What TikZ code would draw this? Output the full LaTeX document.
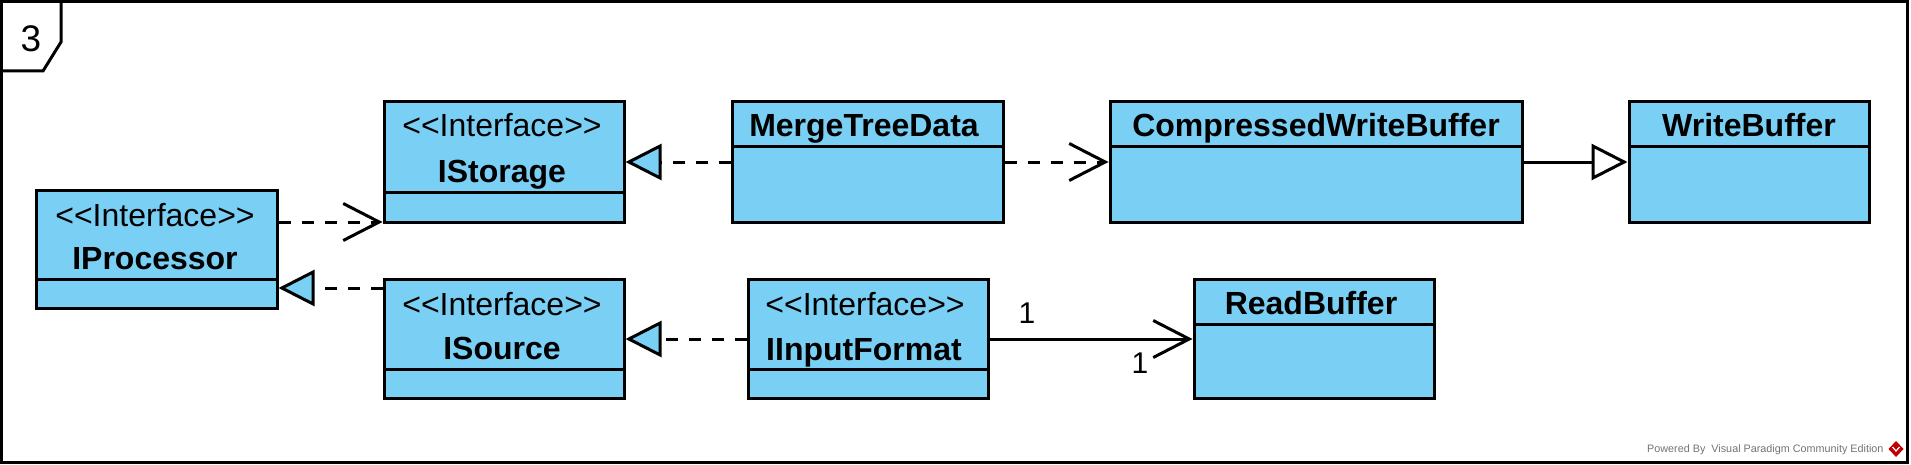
\documentclass[tikz,border=0pt]{standalone}
\usepackage{fontspec}
\setmainfont{Liberation Sans}
\usetikzlibrary{arrows.meta,fit}
\definecolor{umlblue}{RGB}{122,207,245}
\newcommand\stereotxt{<\kern0pt<Interface>\kern0pt>}
\begin{document}
\begin{tikzpicture}[x=0.5pt,y=-0.5pt,line width=1.5pt,
  classbox/.style={draw, fill=umlblue, inner sep=0pt, line width=1.5pt},
  stereo/.style={font=\fontsize{16}{19}\selectfont, anchor=base, inner sep=0pt},
  cname/.style={font=\bfseries\fontsize{16}{19}\selectfont, anchor=base, inner sep=0pt},
  mult/.style={font=\fontsize{15}{18}\selectfont, anchor=base, inner sep=0pt},
  dashpat/.style={dash pattern=on 6pt off 5.5pt},
  dep/.style={dashpat, -{Straight Barb[length=18pt,width=18.5pt]}},
  real/.style={dashpat, -{Triangle[length=18pt,width=18pt,fill=umlblue]}},
  gen/.style={-{Triangle[length=18pt,width=18pt,fill=white]}},
  assoc/.style={-{Straight Barb[length=18pt,width=18.5pt]}},
]
\useasboundingbox (0,0) rectangle (1911,465);
% frame
\draw (1.5,1.5) rectangle (1907,462.5);
\draw (1.5,71) -- (43,71) -- (61,42) -- (61,1.5);
\node[font=\fontsize{18.5}{21}\selectfont, anchor=base, inner sep=0pt] (tabnum) at (31,52) {3};

% IProcessor
\node[classbox, fit={(36,190) (277,308)}] (iproc) {};
\draw (36,279) -- (277,279);
\node[stereo] (iprocst) at (155,226) {\stereotxt};
\node[cname] (iprocnm) at (155,269) {IProcessor};

% IStorage
\node[classbox, fit={(384,102) (624,222)}] (istor) {};
\draw (384,192) -- (624,192);
\node[stereo] (istorst) at (502,137) {\stereotxt};
\node[cname] (istornm) at (502,182) {IStorage};

% MergeTreeData
\node[classbox, fit={(732,102) (1003,222)}] (mtd) {};
\draw (732,147) -- (1003,147);
\node[cname] (mtdnm) at (864,137) {MergeTreeData};

% CompressedWriteBuffer
\node[classbox, fit={(1110,102) (1522,222)}] (cwb) {};
\draw (1110,147) -- (1522,147);
\node[cname] (cwbnm) at (1316,137) {CompressedWriteBuffer};

% WriteBuffer
\node[classbox, fit={(1629,102) (1869,222)}] (wb) {};
\draw (1629,147) -- (1869,147);
\node[cname] (wbnm) at (1749,137) {WriteBuffer};

% ISource
\node[classbox, fit={(384,279) (624,398)}] (isrc) {};
\draw (384,369) -- (624,369);
\node[stereo] (isrcst) at (502,315) {\stereotxt};
\node[cname] (isrcnm) at (502,359) {ISource};

% IInputFormat
\node[classbox, fit={(748,279) (988,398)}] (iif) {};
\draw (748,369) -- (988,369);
\node[stereo] (iifst) at (865,315) {\stereotxt};
\node[cname] (iifnm) at (864,360) {IInputFormat};

% ReadBuffer
\node[classbox, fit={(1194,279) (1434,398)}] (rb) {};
\draw (1194,324) -- (1434,324);
\node[cname] (rbnm) at (1311,314) {ReadBuffer};

% connectors
\coordinate (yA) at (0,222);
\coordinate (yB) at (0,288);
\coordinate (yC) at (0,339);
\draw[dep] (iproc.east |- yA) -- (istor.west |- yA);
\draw[real] (isrc.west |- yB) -- (iproc.east |- yB);
\draw[real] (mtd.west) -- (istor.east);
\draw[dep] (mtd.east) -- (cwb.west);
\draw[gen] (cwb.east) -- (wb.west);
\draw[real] (iif.west |- yC) -- (isrc.east |- yC);
\draw[assoc] (iif.east |- yC) -- (rb.west |- yC);
\node[mult] (m1) at (1027,323) {1};
\node[mult] (m2) at (1140,373) {1};

% watermark
\node[anchor=base east, inner sep=0pt, font=\fontsize{5.4}{6}\selectfont, text=black!55] (wm) at (1885,452) {Powered By\ \ Visual Paradigm Community Edition};
\fill[red!75!black] (1896,441) -- (1903.5,449) -- (1896,457) -- (1888.5,449) -- cycle;
\draw[white, line width=0.6pt] (1892.5,447) -- (1896,451) -- (1899.5,447);
\end{tikzpicture}
\end{document}
